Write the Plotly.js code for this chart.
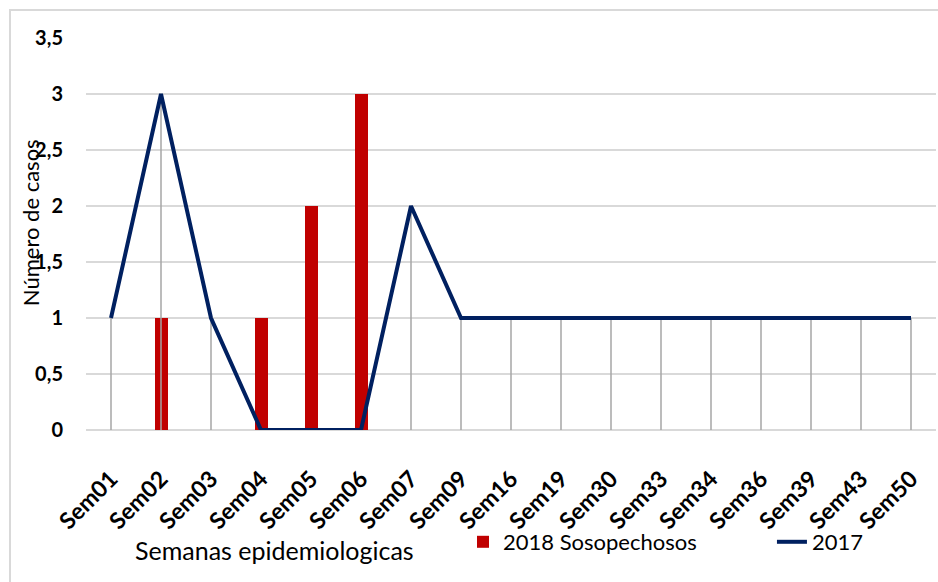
<!DOCTYPE html>
<html>
<head>
<meta charset="utf-8">
<script src="https://cdn.plot.ly/plotly-3.0.1.min.js"></script>
<style>
  html, body { margin: 0; padding: 0; background: #ffffff; }
  #chart { width: 938px; height: 582px; }
</style>
</head>
<body>
<div id="chart"></div>
<script>
const categories = ['Sem01','Sem02','Sem03','Sem04','Sem05','Sem06','Sem07','Sem09','Sem16','Sem19','Sem30','Sem33','Sem34','Sem36','Sem39','Sem43','Sem50'];
const cases2018 = [0, 1, 0, 1, 2, 3, 0, 0, 0, 0, 0, 0, 0, 0, 0, 0, 0];
const cases2017 = [1, 3, 1, 0, 0, 0, 2, 1, 1, 1, 1, 1, 1, 1, 1, 1, 1];
const yTicks = [0, 0.5, 1, 1.5, 2, 2.5, 3, 3.5];

const FONT = 'Lato, "Open Sans", sans-serif';

const traces = [
  {
    type: 'bar',
    name: '2018 Sosopechosos',
    x: categories,
    y: cases2018,
    width: 0.26,
    marker: { color: '#c00000' },
    legend: 'legend',
    hoverinfo: 'x+y'
  },
  {
    type: 'scatter',
    mode: 'markers',
    name: 'drop',
    x: categories,
    y: cases2017,
    marker: { size: 1, opacity: 0 },
    error_y: {
      type: 'data',
      symmetric: false,
      array: cases2017.map(() => 0),
      arrayminus: cases2017,
      width: 0,
      color: '#a6a6a6',
      thickness: 1.5
    },
    showlegend: false,
    hoverinfo: 'skip'
  },
  {
    type: 'scatter',
    mode: 'lines',
    name: '2017',
    x: categories,
    y: cases2017,
    line: { color: '#002060', width: 4 },
    legend: 'legend2',
    cliponaxis: false
  }
];

const legendCommon = {
  orientation: 'h',
  xanchor: 'left',
  y: -0.2857,
  yanchor: 'middle',
  font: { family: FONT, size: 22, color: '#000000' },
  bgcolor: 'rgba(0,0,0,0)'
};

const layout = {
  width: 938,
  height: 582,
  margin: { l: 86, r: 2, t: 38, b: 152 },
  paper_bgcolor: '#ffffff',
  plot_bgcolor: '#ffffff',
  separators: ',.',
  font: { family: FONT, color: '#000000', size: 18 },
  showlegend: true,
  bargap: 0,
  xaxis: {
    type: 'category',
    range: [-0.5, 16.5],
    showgrid: false,
    zeroline: false,
    showline: false,
    ticks: '',
    tickangle: -45,
    ticklabelstandoff: 30,
    tickfont: { family: FONT, size: 23, weight: 'bold', color: '#000000' }
  },
  yaxis: {
    range: [0, 3.5],
    tickvals: yTicks,
    showgrid: true,
    gridcolor: '#d9d9d9',
    gridwidth: 1.5,
    zeroline: true,
    zerolinecolor: '#d9d9d9',
    zerolinewidth: 1.5,
    showline: false,
    ticks: '',
    ticklabelstandoff: 22,
    tickfont: { family: FONT, size: 20, weight: 'bold', color: '#000000' }
  },
  legend: Object.assign({}, legendCommon, { x: 0.4435 }),
  legend2: Object.assign({}, legendCommon, { x: 0.807 }),
  annotations: [
    {
      text: 'Semanas epidemiologicas',
      xref: 'paper', yref: 'paper',
      x: 0.222, y: -0.306,
      xanchor: 'center', yanchor: 'middle',
      showarrow: false,
      font: { family: FONT, size: 25, color: '#000000' }
    },
    {
      text: 'Número de casos',
      xref: 'paper', yref: 'paper',
      x: -0.066, y: 0.53,
      xanchor: 'center', yanchor: 'middle',
      textangle: -90,
      showarrow: false,
      font: { family: FONT, size: 22, color: '#000000' }
    }
  ],
  shapes: [
    {
      type: 'rect',
      xref: 'paper', yref: 'paper',
      x0: -0.0894, x1: 1.2,
      y0: -0.6, y1: 1.0714,
      line: { color: '#d9d9d9', width: 2 },
      fillcolor: 'rgba(0,0,0,0)',
      layer: 'below'
    }
  ]
};

Plotly.newPlot('chart', traces, layout, { displayModeBar: false, staticPlot: true });
</script>
</body>
</html>
